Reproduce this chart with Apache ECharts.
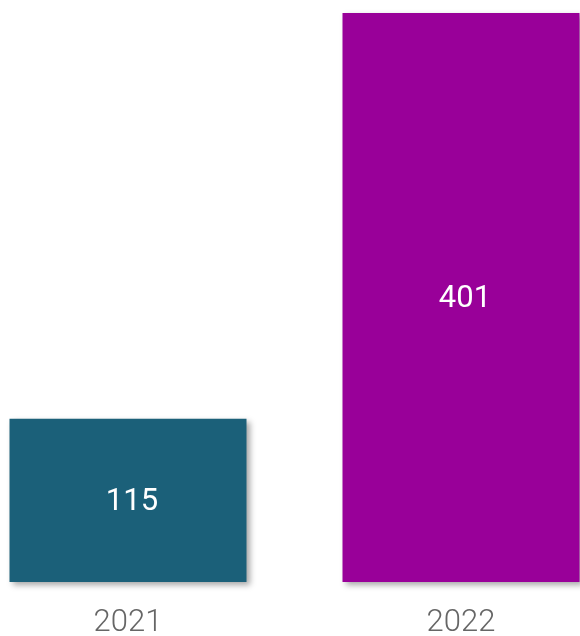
<!DOCTYPE html>
<html>
<head>
<meta charset="utf-8">
<script src="https://cdn.jsdelivr.net/npm/echarts@6/dist/echarts.min.js"></script>
<style>
  html, body { margin: 0; padding: 0; background: #fff; }
  #chart { width: 580px; height: 636px; }
</style>
</head>
<body>
<div id="chart"></div>
<script>
const years = ['2021', '2022']
const totals = [115, 401]
const barColors = ['#1b6079', '#990099']

let myChart = echarts.init(document.getElementById('chart'))
myChart.setOption({
  animation: false,
  grid: {
    left: 128,
    right: 119,
    top: 13,
    bottom: 54,
    outerBoundsMode: 'none'
  },
  xAxis: {
    type: 'category',
    data: years,
    boundaryGap: false,
    axisLine: { show: false },
    axisTick: { show: false },
    axisLabel: {
      margin: 26,
      color: '#666',
      fontFamily: 'Roboto',
      fontWeight: 300,
      fontSize: 31
    }
  },
  yAxis: {
    type: 'value',
    min: 0,
    max: 401,
    show: false
  },
  series: [{
    type: 'bar',
    clip: false,
    barWidth: 237,
    data: totals.map((v, i) => ({
      value: v,
      itemStyle: { color: barColors[i] }
    })),
    itemStyle: {
      shadowColor: 'rgba(0,0,0,0.35)',
      shadowBlur: 6,
      shadowOffsetX: 3,
      shadowOffsetY: 3
    },
    label: {
      show: true,
      position: 'inside',
      offset: [4, 2],
      color: '#fff',
      fontFamily: 'Roboto',
      fontSize: 31
    }
  }]
})
</script>
</body>
</html>
